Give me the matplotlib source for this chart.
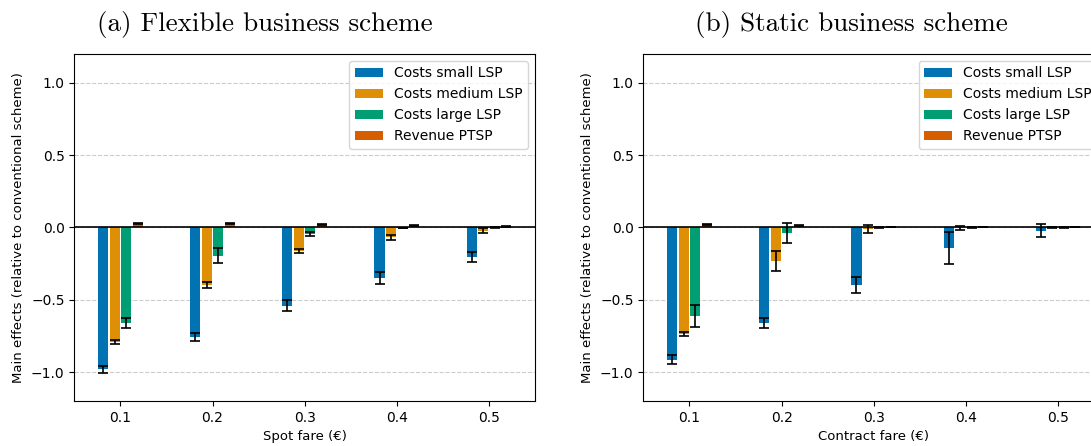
import numpy as np
import matplotlib
matplotlib.use("Agg")
import matplotlib.pyplot as plt

fares = ["0.1", "0.2", "0.3", "0.4", "0.5"]
series = ["Costs small LSP", "Costs medium LSP", "Costs large LSP", "Revenue PTSP"]
colors = ["#0173b2", "#de8f05", "#029e73", "#d55e00"]

# (a) flexible scheme, main effects and error half-widths
flex_small = [-0.98, -0.76, -0.54, -0.35, -0.206]
flex_small_err = [0.025, 0.027, 0.04, 0.044, 0.036]
flex_medium = [-0.79, -0.40, -0.163, -0.069, -0.021]
flex_medium_err = [0.014, 0.02, 0.014, 0.016, 0.014]
flex_large = [-0.66, -0.195, -0.047, -0.004, -0.003]
flex_large_err = [0.035, 0.052, 0.015, 0.003, 0.003]
flex_rev = [0.025, 0.028, 0.018, 0.012, 0.008]
flex_rev_err = [0.003, 0.006, 0.003, 0.003, 0.002]

# (b) static scheme
stat_small = [-0.915, -0.66, -0.397, -0.14, -0.023]
stat_small_err = [0.03, 0.033, 0.056, 0.11, 0.046]
stat_medium = [-0.735, -0.23, -0.009, -0.002, -0.002]
stat_medium_err = [0.014, 0.07, 0.028, 0.012, 0.004]
stat_large = [-0.61, -0.037, -0.001, -0.001, -0.001]
stat_large_err = [0.076, 0.069, 0.003, 0.002, 0.002]
stat_rev = [0.023, 0.012, 0.004, 0.002, 0.001]
stat_rev_err = [0.004, 0.003, 0.002, 0.001, 0.001]


def draw_panel(ax, vals, errs, xlabel):
    x = np.arange(len(fares))
    step = 0.125
    ax.yaxis.grid(True, linestyle="--", color="#cccccc", linewidth=0.8, zorder=0)
    for i, (v, e) in enumerate(zip(vals, errs)):
        ax.bar(x + (i - 1.5) * step, v, width=0.11, color=colors[i], label=series[i],
               yerr=e, capsize=3.5, zorder=2,
               error_kw=dict(ecolor="black", elinewidth=1.2, capthick=1.2, zorder=3))
    ax.axhline(0, color="black", linewidth=1.2, zorder=4)
    ax.set_xticks(x)
    ax.set_xticklabels(fares)
    ax.set_xlim(-0.5, 4.5)
    ax.set_ylim(-1.2, 1.2)
    ax.set_yticks([-1.0, -0.5, 0.0, 0.5, 1.0])
    ax.set_xlabel(xlabel, fontsize=9.5)
    ax.set_ylabel("Main effects (relative to conventional scheme)", fontsize=9.5)
    ax.tick_params(labelsize=10)
    ax.legend(loc="upper right", fontsize=10)


fig = plt.figure(figsize=(10.91, 4.46), dpi=100)
ax1 = fig.add_axes([0.0681, 0.1009, 0.4223, 0.7781])
ax2 = fig.add_axes([0.5897, 0.1009, 0.4223, 0.7781])

draw_panel(ax1, [flex_small, flex_medium, flex_large, flex_rev],
           [flex_small_err, flex_medium_err, flex_large_err, flex_rev_err], "Spot fare (€)")
draw_panel(ax2, [stat_small, stat_medium, stat_large, stat_rev],
           [stat_small_err, stat_medium_err, stat_large_err, stat_rev_err], "Contract fare (€)")

fig.text(265 / 1091, 1 - 25 / 446, "(a) Flexible business scheme", family="cmr10",
         fontsize=19.5, ha="center", va="center")
fig.text(851 / 1091, 1 - 25 / 446, "(b) Static business scheme", family="cmr10",
         fontsize=19.5, ha="center", va="center")

fig.savefig("out.png", dpi=100)
